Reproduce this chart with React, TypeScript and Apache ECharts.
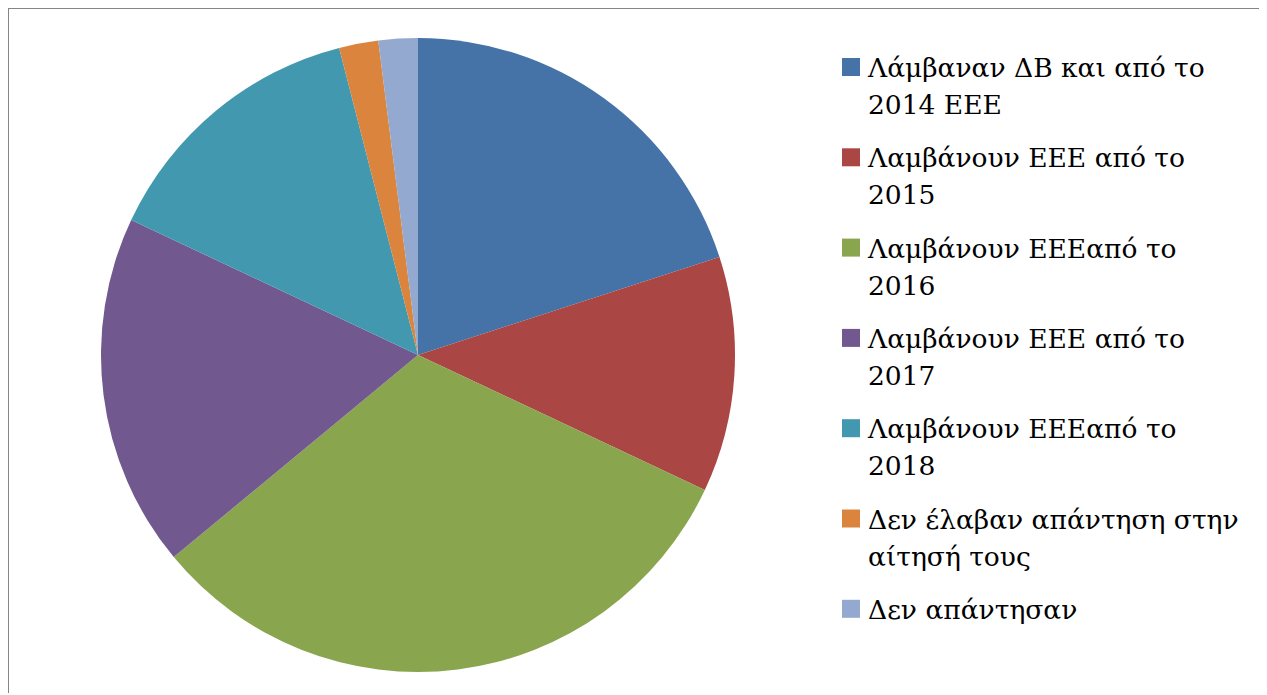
import React, { useEffect, useRef } from "react";
import * as echarts from "echarts";

const categories: string[] = [
  "Λάμβαναν ΔΒ και από το\n2014 ΕΕΕ",
  "Λαμβάνουν ΕΕΕ από το\n2015",
  "Λαμβάνουν ΕΕΕαπό το\n2016",
  "Λαμβάνουν ΕΕΕ από το\n2017",
  "Λαμβάνουν ΕΕΕαπό το\n2018",
  "Δεν έλαβαν απάντηση στην\nαίτησή τους",
  "Δεν απάντησαν",
];
const values: number[] = [20, 12, 32, 18, 14, 2, 2];
const colors: string[] = ["#4572A7", "#AA4643", "#89A54E", "#71588F", "#4198AF", "#DB843D", "#93A9CF"];

export default function App() {
  const ref = useRef<HTMLDivElement>(null);
  useEffect(() => {
    if (!ref.current) return;
    const chart = echarts.init(ref.current, undefined, { renderer: "svg" });
    const legendX = 833;
    const legendY = 49;
    const step = 90.3;
    const graphic: any[] = [];
    categories.forEach((c, i) => {
      graphic.push({
        type: "rect",
        shape: { x: legendX, y: legendY + step * i, width: 18, height: 18 },
        style: { fill: colors[i] },
      });
      graphic.push({
        type: "text",
        x: legendX + 26,
        y: legendY - 9 + step * i,
        style: {
          text: c,
          fontFamily: "DejaVu Serif",
          fontSize: 26.5,
          fill: "#000",
          lineHeight: 37,
          verticalAlign: "top",
          align: "left",
        },
      });
    });
    chart.setOption({
      animation: false,
      backgroundColor: "#fff",
      color: colors,
      graphic,
      series: [
        {
          type: "pie",
          center: [409, 346],
          radius: 317,
          startAngle: 90,
          clockwise: true,
          label: { show: false },
          labelLine: { show: false },
          itemStyle: { borderWidth: 0 },
          emphasis: { disabled: true },
          data: categories.map((name, i) => ({ name, value: values[i] })),
        },
      ],
    });
    return () => chart.dispose();
  }, []);
  return (
    <div
      style={{
        margin: "-1px 0 0 -1px",
        borderTop: "2px solid #858585",
        borderLeft: "2px solid #858585",
        width: 1258,
        height: 686,
        boxSizing: "border-box",
        background: "#fff",
      }}
    >
      <div ref={ref} style={{ width: 1256, height: 684 }} />
    </div>
  );
}
